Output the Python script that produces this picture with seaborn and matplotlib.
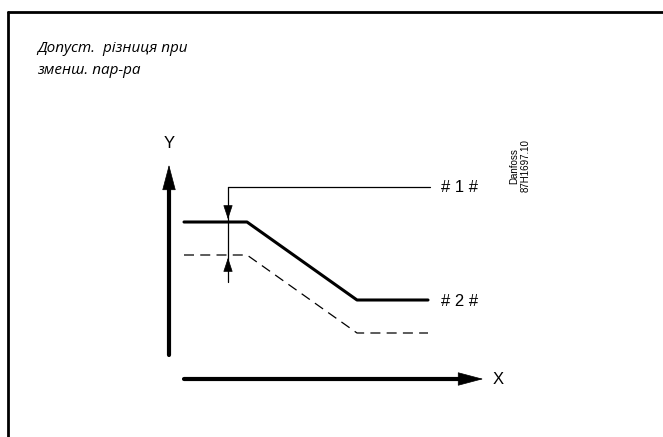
import matplotlib
matplotlib.use('Agg')
import matplotlib.pyplot as plt
import seaborn as sns
import pandas as pd

# curve points (x, y) in picture units, y grows downward
setpoint_x = [184, 247, 357, 428]
setpoint_y = [222, 222, 300, 300]
reduced_x = [184, 247, 357, 428]
reduced_y = [255, 255, 333, 333]

title_lines = ['Допуст.  різниця при', 'зменш. пар-ра']
label_1 = '# 1 #'
label_2 = '# 2 #'
stamp = 'Danfoss\n87H1697.10'

sns.set_style('white')
plt.rcParams['font.family'] = ['Open Sans', 'DejaVu Sans']
plt.rcParams['text.color'] = 'black'

fig = plt.figure(figsize=(6.63, 4.37), dpi=100)
ax = fig.add_axes([0, 0, 1, 1])
ax.set_xlim(0, 663)
ax.set_ylim(437, 0)
ax.axis('off')

df_set = pd.DataFrame({'x': setpoint_x, 'y': setpoint_y})
df_red = pd.DataFrame({'x': reduced_x, 'y': reduced_y})
sns.lineplot(data=df_set, x='x', y='y', sort=False, color='black', lw=2.2, ax=ax)
sns.lineplot(data=df_red, x='x', y='y', sort=False, color='black', lw=0.9,
             ax=ax, dashes=False, linestyle=(0, (8, 5)))

# frame (top and left only)
ax.plot([8, 663], [12, 12], color='black', lw=2)
ax.plot([8, 8], [12, 437], color='black', lw=2)

# axes arrows
ax.plot([169, 169], [355, 185], color='black', lw=3)
ax.annotate('', xy=(169, 162), xytext=(169, 192),
            arrowprops=dict(arrowstyle='-|>,head_length=1.7,head_width=0.45',
                            color='black', lw=0.5))
ax.plot([184, 462], [379, 379], color='black', lw=3)
ax.annotate('', xy=(486, 379), xytext=(455, 379),
            arrowprops=dict(arrowstyle='-|>,head_length=1.7,head_width=0.45',
                            color='black', lw=0.5))
ax.text(169, 143, 'Y', ha='center', va='center', fontsize=12, family='Liberation Sans')
ax.text(498, 380, 'X', ha='center', va='center', fontsize=12, family='Liberation Sans')

# offset indicator
ax.plot([228, 228], [187, 282], color='black', lw=0.9)
ax.plot([228, 430], [187, 187], color='black', lw=0.9)
ax.annotate('', xy=(228, 222), xytext=(228, 205),
            arrowprops=dict(arrowstyle='-|>,head_length=0.9,head_width=0.3',
                            color='black', lw=0.5))
ax.annotate('', xy=(228, 255), xytext=(228, 272),
            arrowprops=dict(arrowstyle='-|>,head_length=0.9,head_width=0.3',
                            color='black', lw=0.5))

ax.text(441, 188, label_1, ha='left', va='center', fontsize=12, family='Liberation Sans')
ax.text(441, 301, label_2, ha='left', va='center', fontsize=12, family='Liberation Sans')
ax.text(520, 166, stamp, ha='center', va='center', rotation=90, fontsize=7,
        family='Liberation Sans', linespacing=1.25)

ax.text(37, 48, title_lines[0], ha='left', va='center', fontsize=11, style='italic')
ax.text(37, 70, title_lines[1], ha='left', va='center', fontsize=11, style='italic')

fig.savefig('out.png', dpi=100)
